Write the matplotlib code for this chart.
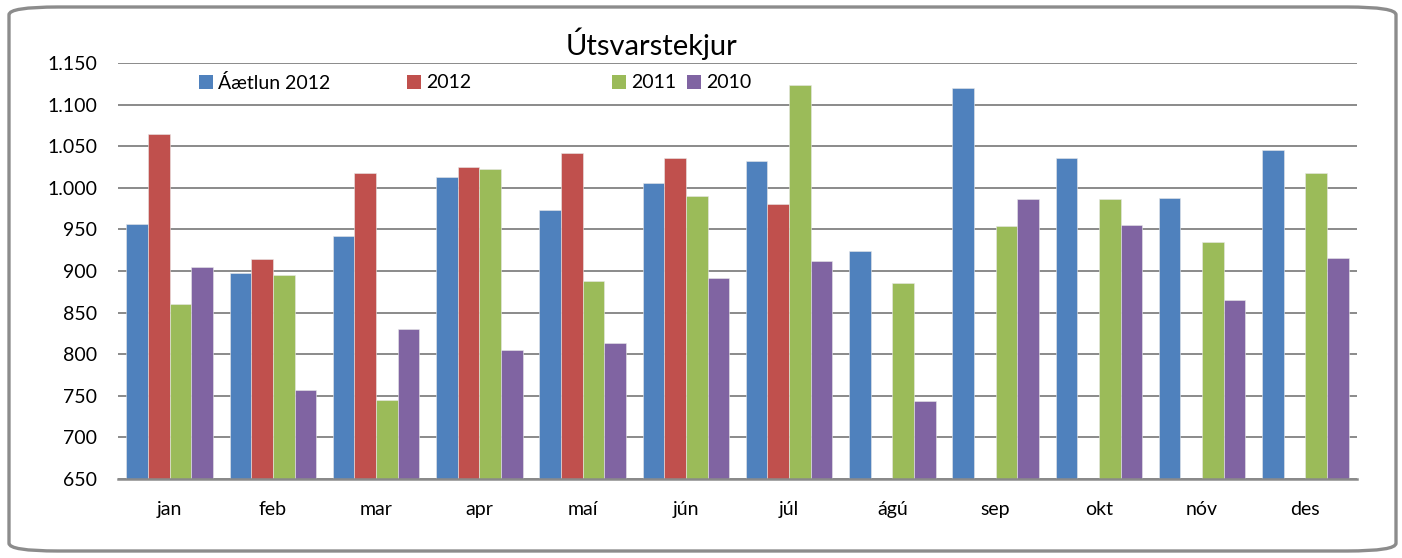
import numpy as np
import matplotlib.pyplot as plt
from matplotlib.patches import FancyBboxPatch, Patch
from matplotlib.ticker import FuncFormatter, MultipleLocator

plt.rcParams['font.family'] = ['Lato', 'DejaVu Sans']

months = ['jan', 'feb', 'mar', 'apr', 'maí', 'jún', 'júl', 'ágú', 'sep', 'okt', 'nóv', 'des']
series_names = ['Áætlun 2012', '2012', '2011', '2010']
aaetlun_2012 = [957, 898, 942, 1013, 973, 1006, 1032, 924, 1120, 1036, 988, 1045]
y2012 = [1065, 914, 1018, 1025, 1042, 1036, 980, None, None, None, None, None]
y2011 = [860, 895, 745, 1023, 888, 990, 1124, 886, 954, 987, 935, 1018]
y2010 = [905, 757, 830, 805, 814, 892, 912, 744, 987, 955, 865, 916]
colors = ['#4F81BD', '#C0504D', '#9BBB59', '#8064A2']

data = [aaetlun_2012, y2012, y2011, y2010]

fig = plt.figure(figsize=(14.02, 5.58), dpi=100)
ax = fig.add_axes([118 / 1402, 1 - 479 / 558, 1239 / 1402, 416 / 558])

# rounded outer frame like the Excel chart area
frame = FancyBboxPatch((9 / 1402, 7 / 558), 1387 / 1402, 544 / 558,
                       boxstyle='round,pad=0,rounding_size=0.035',
                       transform=fig.transFigure, fill=False,
                       edgecolor='#8c8c8c', linewidth=2.4, mutation_aspect=558 / 1402)
fig.patches.append(frame)

x = np.arange(len(months))
w = 0.21
for i, (vals, c) in enumerate(zip(data, colors)):
    h = np.array([np.nan if v is None else v for v in vals], dtype=float)
    ax.bar(x + (i - 1.5) * w, h, width=w, color=c, edgecolor='#e8e8e8',
           linewidth=0.4, zorder=3)

ax.set_xlim(-0.5, len(months) - 0.5)
ax.set_ylim(650, 1150)
ax.yaxis.set_major_locator(MultipleLocator(50))
ax.yaxis.set_major_formatter(FuncFormatter(lambda v, p: f'{int(v):,}'.replace(',', '.')))
ax.set_xticks(x)
ax.set_xticklabels(months)
ax.tick_params(axis='both', length=0, labelsize=14)
ax.tick_params(axis='x', pad=16)
ax.tick_params(axis='y', pad=15)
ax.grid(axis='y', color='#8a8a8a', linewidth=1.4, zorder=0)
for s in ['top', 'right', 'left']:
    ax.spines[s].set_visible(False)
ax.spines['bottom'].set_color('#8a8a8a')
ax.spines['bottom'].set_linewidth(1.8)
ax.spines['bottom'].set_zorder(4)

fig.text(651 / 1402, 1 - 44 / 558, 'Útsvarstekjur', ha='center', va='center', fontsize=21)

# legend entries positioned individually, as in the original
leg_x = [199, 407, 612, 687]
for name, c, lx in zip(series_names, colors, leg_x):
    fig.legend(handles=[Patch(facecolor=c, label=name)], loc='center left',
               bbox_to_anchor=(lx / 1402, 1 - 83 / 558),
               frameon=False, fontsize=14, handlelength=0.7, handleheight=0.7,
               handletextpad=0.3, borderpad=0, borderaxespad=0)

fig.savefig('out.png', dpi=100)
